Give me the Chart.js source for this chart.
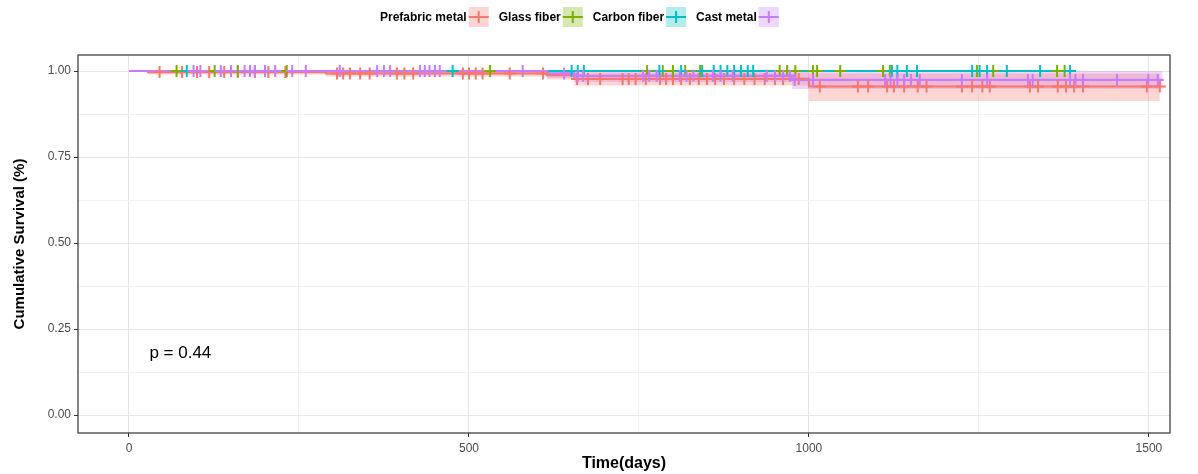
<!DOCTYPE html>
<html>
<head>
<meta charset="utf-8">
<script src="https://cdn.jsdelivr.net/npm/chart.js@4.4.1/dist/chart.umd.min.js"></script>
<style>
  html, body { margin: 0; padding: 0; background: #fff; }
  #wrap { position: relative; width: 1198px; height: 474px; }
</style>
</head>
<body>
<div id="wrap"><canvas id="km"></canvas></div>
<script>
const groups = ['Prefabric metal', 'Glass fiber', 'Carbon fiber', 'Cast metal'];
const colors = ['#F8766D', '#7CAE00', '#00BFC4', '#C77CFF'];
const bandColors = ['rgba(248,118,109,0.3)', 'rgba(124,174,0,0.3)', 'rgba(0,191,196,0.3)', 'rgba(199,124,255,0.3)'];

// step curves: event times and survival after each event
const redTimes = [0, 28, 290, 615, 655, 1000];
const redSurv = [1, 0.997, 0.993, 0.988, 0.977, 0.955];
const redUpper = [1, 1, 1, 0.999, 0.996, 0.993];
const redLower = [1, 0.99, 0.984, 0.975, 0.958, 0.913];
const redEnd = 1516;

const greenTimes = [0];
const greenSurv = [1];
const greenEnd = 1376;

const tealTimes = [0];
const tealSurv = [1];
const tealEnd = 1384;

const purpleTimes = [0, 615, 655, 975];
const purpleSurv = [1, 0.993, 0.986, 0.974];
const purpleUpper = [1, 1, 1, 1];
const purpleLower = [1, 0.98, 0.968, 0.948];
const purpleEnd = 1520;

// censored observations (days)
const redCens = [45, 78, 100, 118, 140, 160, 185, 205, 230, 306, 315, 325, 340, 354, 394, 405, 418, 491, 500, 510, 520, 560, 609,
  659, 675, 693, 726, 735, 745, 760, 781, 790, 800, 812, 825, 838, 850, 862, 875, 890, 905, 920, 935, 950, 962, 985,
  1016, 1072, 1087, 1115, 1125, 1140, 1160, 1173, 1225, 1240, 1255, 1266, 1325, 1337, 1366, 1378, 1390, 1403, 1497, 1516];
const greenCens = [70, 126, 160, 232, 531, 762, 785, 800, 818, 840, 957, 968, 980, 1006, 1012, 1046, 1109, 1119, 1247, 1271, 1365, 1376];
const tealCens = [85, 178, 476, 651, 660, 669, 780, 812, 843, 860, 870, 880, 890, 900, 910, 918, 1122, 1130, 1144, 1159,
  1240, 1251, 1262, 1291, 1340, 1384];
const purpleCens = [95, 105, 135, 150, 170, 178, 185, 200, 215, 240, 260, 310, 365, 375, 384, 428, 435, 442, 450, 457, 579,
  640, 660, 668, 756, 765, 776, 810, 820, 830, 859, 870, 888, 938, 950, 962, 972, 979, 1006, 1112, 1120, 1130, 1140, 1150,
  1163, 1225, 1262, 1322, 1329, 1384, 1392, 1403, 1453, 1499, 1513];

const xTicks = [0, 250, 500, 750, 1000, 1250, 1500];
const yTicks = [0, 0.125, 0.25, 0.375, 0.5, 0.625, 0.75, 0.875, 1];
const pLabel = 'p = 0.44';

function stepPoints(times, vals, end) {
  const pts = times.map((t, i) => ({ x: t, y: vals[i] }));
  pts.push({ x: end, y: vals[vals.length - 1] });
  return pts;
}
function survAt(times, vals, t) {
  let s = vals[0];
  for (let i = 0; i < times.length; i++) if (times[i] <= t) s = vals[i];
  return s;
}
function censPoints(cens, times, vals) {
  return cens.map(t => ({ x: t, y: survAt(times, vals, t) }));
}

const curves = [
  { times: redTimes, surv: redSurv, end: redEnd, cens: redCens, upper: redUpper, lower: redLower },
  { times: greenTimes, surv: greenSurv, end: greenEnd, cens: greenCens },
  { times: tealTimes, surv: tealSurv, end: tealEnd, cens: tealCens },
  { times: purpleTimes, surv: purpleSurv, end: purpleEnd, cens: purpleCens, upper: purpleUpper, lower: purpleLower },
];

const datasets = [];
curves.forEach((c, i) => {
  if (c.upper) {
    datasets.push({
      label: groups[i] + ' upper', data: stepPoints(c.times, c.upper, c.end), stepped: 'before',
      borderWidth: 0, pointRadius: 0, fill: false, order: 10, borderColor: 'rgba(0,0,0,0)'
    });
    datasets.push({
      label: groups[i] + ' lower', data: stepPoints(c.times, c.lower, c.end), stepped: 'before',
      borderWidth: 0, pointRadius: 0, fill: '-1', backgroundColor: bandColors[i], order: 10, borderColor: 'rgba(0,0,0,0)'
    });
  }
});
curves.forEach((c, i) => {
  datasets.push({
    label: groups[i], data: stepPoints(c.times, c.surv, c.end), stepped: 'before',
    borderColor: colors[i], borderWidth: 2.2, pointRadius: 0, fill: false, order: 8 - i
  });
});
curves.forEach((c, i) => {
  datasets.push({
    label: groups[i] + ' censor', data: censPoints(c.cens, c.times, c.surv), showLine: false,
    pointStyle: 'cross', pointRadius: 6, pointBorderWidth: 2, borderColor: colors[i],
    pointBorderColor: colors[i], order: 4 - i
  });
});

const frame = {
  id: 'frame',
  afterDraw(chart) {
    const { ctx, chartArea: a } = chart;
    ctx.save();
    ctx.strokeStyle = '#333';
    ctx.lineWidth = 1.2;
    ctx.strokeRect(a.left, a.top, a.right - a.left, a.bottom - a.top);
    // p value
    ctx.fillStyle = '#000';
    ctx.font = '17px Arial, "Liberation Sans", sans-serif';
    ctx.textBaseline = 'middle';
    ctx.fillText(pLabel, chart.scales.x.getPixelForValue(30), chart.scales.y.getPixelForValue(0.18));
    // legend
    ctx.font = 'bold 12px Arial, "Liberation Sans", sans-serif';
    let x = 380;
    const cy = 17;
    groups.forEach((g, i) => {
      ctx.fillStyle = '#000';
      ctx.textAlign = 'left';
      ctx.fillText(g, x, cy + 1);
      x += ctx.measureText(g).width + 2;
      ctx.fillStyle = bandColors[i];
      ctx.fillRect(x, cy - 10, 20, 20);
      ctx.strokeStyle = colors[i];
      ctx.lineWidth = 2;
      ctx.beginPath();
      ctx.moveTo(x, cy); ctx.lineTo(x + 20, cy);
      ctx.moveTo(x + 10, cy - 6); ctx.lineTo(x + 10, cy + 6);
      ctx.stroke();
      x += 20 + 10;
    });
    ctx.restore();
  }
};

new Chart(document.getElementById('km'), {
  type: 'line',
  data: { datasets },
  options: {
    responsive: true,
    maintainAspectRatio: false,
    animation: false,
    layout: { padding: { top: 55, right: 28, left: 0, bottom: 0 } },
    plugins: {
      legend: { display: false },
      tooltip: { enabled: false },
      filler: { propagate: false }
    },
    scales: {
      x: {
        type: 'linear',
        min: -75,
        max: 1531,
        afterBuildTicks: s => { s.ticks = xTicks.map(v => ({ value: v })); },
        afterFit: s => { s.height = 41; },
        border: { display: false },
        grid: {
          color: c => (c.tick && c.tick.value % 500 === 0) ? '#e6e6e6' : '#f2f2f2',
          tickColor: c => (c.tick && c.tick.value % 500 === 0) ? '#333' : 'rgba(0,0,0,0)',
          tickLength: 4
        },
        ticks: {
          autoSkip: false, maxRotation: 0, padding: 4,
          color: '#4d4d4d',
          font: { family: 'Arial, "Liberation Sans", sans-serif', size: 12 },
          callback: v => (v % 500 === 0 ? String(v) : '')
        },
        title: {
          display: true, text: 'Time(days)', color: '#000',
          font: { family: 'Arial, "Liberation Sans", sans-serif', size: 16, weight: 'bold' },
          padding: { top: 0, bottom: 1 }
        }
      },
      y: {
        min: -0.052,
        max: 1.0465,
        afterBuildTicks: s => { s.ticks = yTicks.map(v => ({ value: v })); },
        afterFit: s => { s.width = 78; },
        border: { display: false },
        grid: {
          color: c => (c.tick && (c.tick.value * 4) % 1 === 0) ? '#e6e6e6' : '#f2f2f2',
          tickColor: c => (c.tick && (c.tick.value * 4) % 1 === 0) ? '#333' : 'rgba(0,0,0,0)',
          tickLength: 4
        },
        ticks: {
          autoSkip: false, padding: 3,
          color: '#4d4d4d',
          font: { family: 'Arial, "Liberation Sans", sans-serif', size: 12 },
          callback: v => ((v * 4) % 1 === 0 ? v.toFixed(2) : '')
        },
        title: {
          display: true, text: 'Cumulative Survival (%)', color: '#000',
          font: { family: 'Arial, "Liberation Sans", sans-serif', size: 15, weight: 'bold' },
          padding: { top: 11, bottom: 0 }
        }
      }
    }
  },
  plugins: [frame]
});
</script>
</body>
</html>
